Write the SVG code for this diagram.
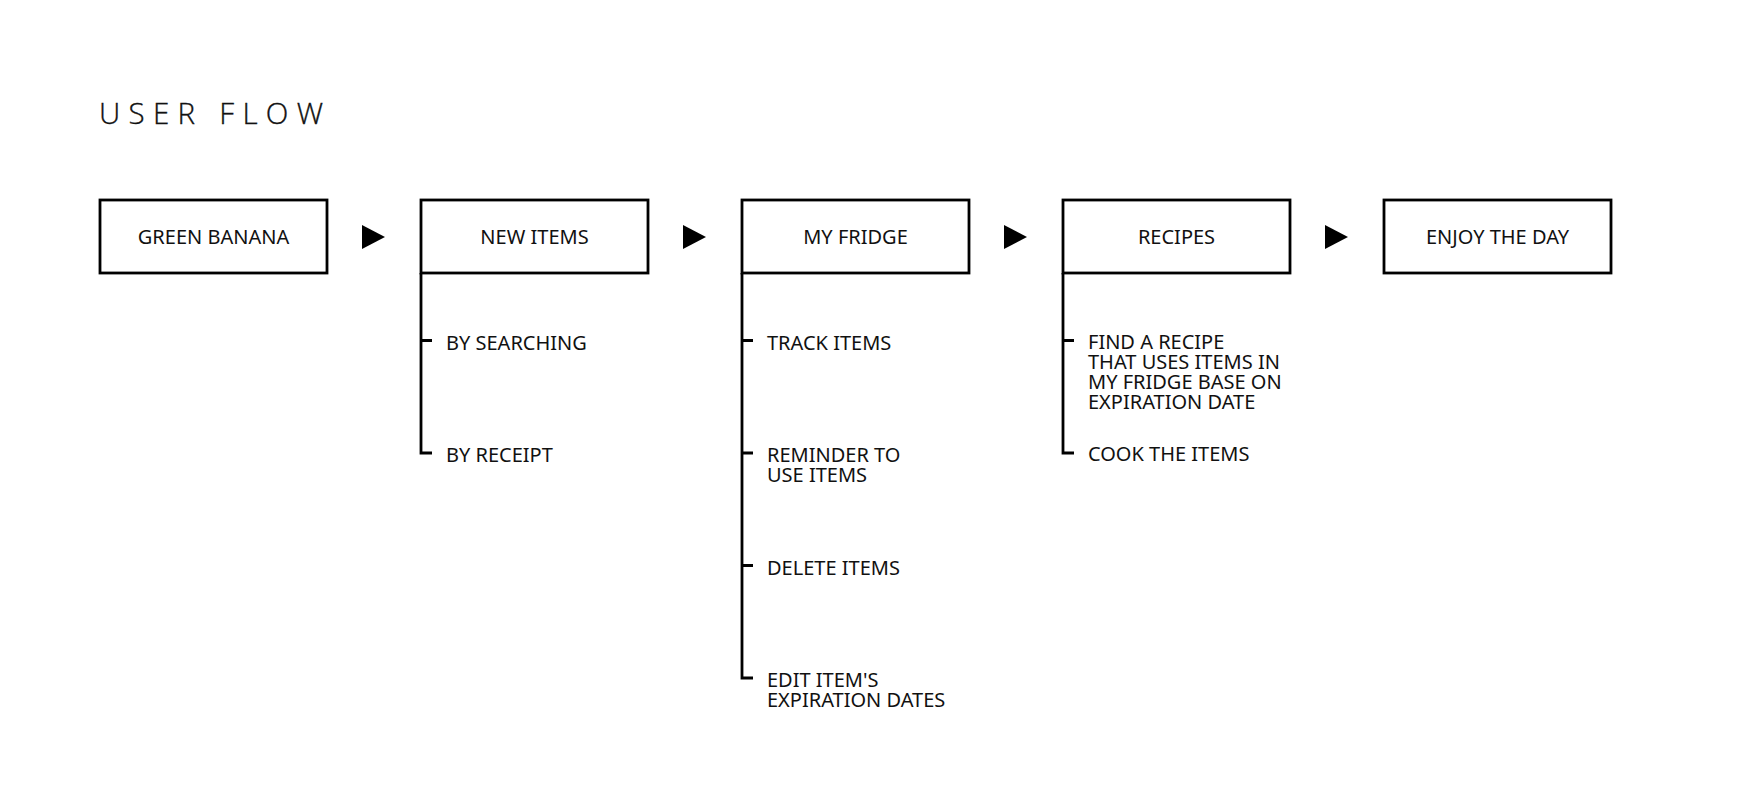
<svg xmlns="http://www.w3.org/2000/svg" width="1760" height="808" viewBox="0 0 1760 808">
<style>
.box{fill:#fff;stroke:#000;stroke-width:2.8}
.lbl{font-family:"Noto Sans","Liberation Sans",sans-serif;font-size:20px;fill:#111;text-anchor:middle}
.sub{font-family:"Noto Sans","Liberation Sans",sans-serif;font-size:20px;fill:#111}
.ln{fill:none;stroke:#000;stroke-width:2.8}
.arr{fill:#000}
.title{font-family:"Open Sans","Noto Sans",sans-serif;font-weight:300;font-size:29.5px;letter-spacing:8.3px;fill:#111;stroke:#111;stroke-width:0.35}
</style>
<rect width="1760" height="808" fill="#fff"/>
<text class="title" x="99" y="124">USER FLOW</text>
<g id="connectors">
<polygon class="arr" points="362,225 385,237 362,249"/>
<polygon class="arr" points="683,225 706,237 683,249"/>
<polygon class="arr" points="1004,225 1027,237 1004,249"/>
<polygon class="arr" points="1325,225 1348,237 1325,249"/>
<path class="ln" d="M421 273 V453 H432 M421 340.5 H432"/>
<path class="ln" d="M742 273 V678 H753 M742 340.5 H753 M742 453 H753 M742 565.5 H753"/>
<path class="ln" d="M1063 273 V453 H1074 M1063 340.5 H1074"/>
</g>
<g id="green-banana">
<rect class="box" x="100" y="200" width="227" height="73"/>
<text class="lbl" x="213.5" y="244">GREEN BANANA</text>
</g>
<g id="new-items">
<rect class="box" x="421" y="200" width="227" height="73"/>
<text class="lbl" x="534.5" y="244">NEW ITEMS</text>
<text class="sub" x="446" y="349.5">BY SEARCHING</text>
<text class="sub" x="446" y="462">BY RECEIPT</text>
</g>
<g id="my-fridge">
<rect class="box" x="742" y="200" width="227" height="73"/>
<text class="lbl" x="855.5" y="244">MY FRIDGE</text>
<text class="sub" x="767" y="349.5">TRACK ITEMS</text>
<text class="sub" x="767" y="462">REMINDER TO<tspan x="767" dy="20">USE ITEMS</tspan></text>
<text class="sub" x="767" y="574.5">DELETE ITEMS</text>
<text class="sub" x="767" y="687">EDIT ITEM'S<tspan x="767" dy="20">EXPIRATION DATES</tspan></text>
</g>
<g id="recipes">
<rect class="box" x="1063" y="200" width="227" height="73"/>
<text class="lbl" x="1176.5" y="244">RECIPES</text>
<text class="sub" x="1088" y="349"><tspan x="1088">FIND A RECIPE</tspan><tspan x="1088" dy="20">THAT USES ITEMS IN</tspan><tspan x="1088" dy="20">MY FRIDGE BASE ON</tspan><tspan x="1088" dy="20">EXPIRATION DATE</tspan></text>
<text class="sub" x="1088" y="461">COOK THE ITEMS</text>
</g>
<g id="enjoy-the-day">
<rect class="box" x="1384" y="200" width="227" height="73"/>
<text class="lbl" x="1497.5" y="244">ENJOY THE DAY</text>
</g>
</svg>
